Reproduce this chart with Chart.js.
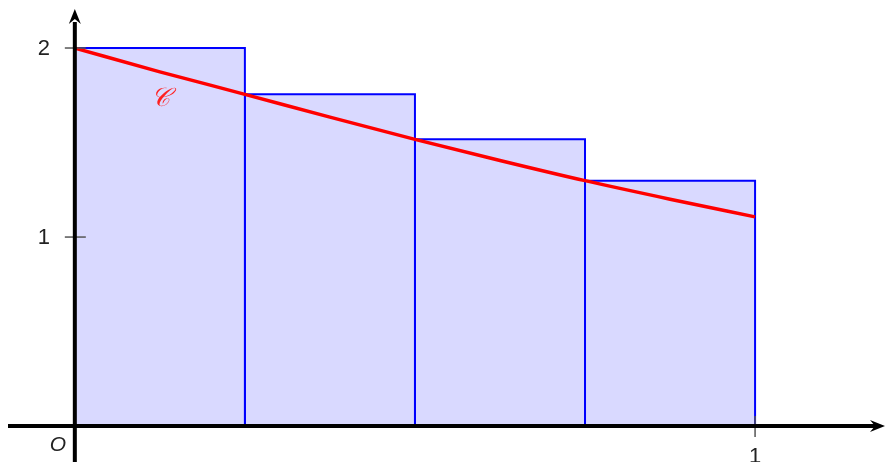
<!DOCTYPE html>
<html>
<head>
<meta charset="utf-8">
<script src="https://cdn.jsdelivr.net/npm/chart.js@4/dist/chart.umd.min.js"></script>
<style>
  html, body { margin: 0; padding: 0; background: #fff; }
  #wrap { width: 885px; height: 462px; }
</style>
</head>
<body>
<div id="wrap"><canvas id="c" width="885" height="462"></canvas></div>
<script>
// Left-endpoint rectangles under the curve C on [0, 1]
const rectEdges = [0, 0.25, 0.5, 0.75, 1];
const rectHeights = [2, 1.755, 1.517, 1.298];

// Curve C sampled along [0, 1]
const curveX = [0, 0.125, 0.25, 0.375, 0.5, 0.625, 0.75, 0.875, 1];
const curveY = [2, 1.874, 1.755, 1.634, 1.517, 1.405, 1.298, 1.200, 1.107];

// Axis tick labels
const xTicks = [1];
const yTicks = [1, 2];

const rectDatasets = rectHeights.map((h, i) => ({
  type: 'line',
  data: [
    { x: rectEdges[i], y: 0 },
    { x: rectEdges[i], y: h },
    { x: rectEdges[i + 1], y: h },
    { x: rectEdges[i + 1], y: 0 }
  ],
  borderColor: '#0000ff',
  borderWidth: 2,
  backgroundColor: '#d9d9ff',
  fill: 'origin',
  pointRadius: 0,
  tension: 0,
  order: 2
}));

const curveDataset = {
  type: 'line',
  data: curveX.map((x, i) => ({ x, y: curveY[i] })),
  borderColor: '#ff0000',
  borderWidth: 3.4,
  fill: false,
  pointRadius: 0,
  cubicInterpolationMode: 'monotone',
  order: 1
};

// Draws the arrowed axes, ticks and labels on top of the plot
const axesPlugin = {
  id: 'axes',
  afterDatasetsDraw(chart) {
    const ctx = chart.ctx;
    const xs = chart.scales.x, ys = chart.scales.y;
    const x0 = xs.getPixelForValue(0), y0 = ys.getPixelForValue(0);
    const W = chart.width, H = chart.height;
    ctx.save();

    // ticks
    ctx.strokeStyle = '#555';
    ctx.lineWidth = 1.5;
    yTicks.forEach(v => {
      const py = ys.getPixelForValue(v);
      ctx.beginPath();
      ctx.moveTo(x0 - 10, py);
      ctx.lineTo(x0 + 11, py);
      ctx.stroke();
    });
    xTicks.forEach(v => {
      const px = xs.getPixelForValue(v);
      ctx.beginPath();
      ctx.moveTo(px, y0 - 10);
      ctx.lineTo(px, y0 + 11);
      ctx.stroke();
    });

    // axes
    ctx.strokeStyle = '#000';
    ctx.fillStyle = '#000';
    ctx.lineWidth = 4;
    ctx.lineCap = 'butt';
    ctx.beginPath();
    ctx.moveTo(8, y0);
    ctx.lineTo(W - 10, y0);
    ctx.moveTo(x0, H);
    ctx.lineTo(x0, 22);
    ctx.stroke();

    // arrow heads
    const arrow = (tx, ty, dx, dy) => {
      const nx = -dy, ny = dx;
      ctx.beginPath();
      ctx.moveTo(tx, ty);
      ctx.lineTo(tx - dx * 15 + nx * 6, ty - dy * 15 + ny * 6);
      ctx.lineTo(tx - dx * 10, ty - dy * 10);
      ctx.lineTo(tx - dx * 15 - nx * 6, ty - dy * 15 - ny * 6);
      ctx.closePath();
      ctx.fill();
    };
    arrow(W, y0, 1, 0);
    arrow(x0, 9, 0, -1);

    // labels
    ctx.fillStyle = '#222';
    ctx.font = '22px "Liberation Sans", sans-serif';
    ctx.textAlign = 'center';
    ctx.textBaseline = 'middle';
    yTicks.forEach(v => {
      ctx.fillText(String(v), x0 - 31, ys.getPixelForValue(v) + 1);
    });
    xTicks.forEach(v => {
      ctx.fillText(String(v), xs.getPixelForValue(v), y0 + 31);
    });
    ctx.font = 'italic 21px "Liberation Sans", sans-serif';
    ctx.fillText('O', x0 - 17, y0 + 19);

    // curve name
    ctx.fillStyle = '#ff2020';
    ctx.font = 'italic 26px "DejaVu Serif", serif';
    ctx.fillText('𝒞', xs.getPixelForValue(0.126), ys.getPixelForValue(1.73));
    ctx.restore();
  }
};

new Chart(document.getElementById('c'), {
  type: 'line',
  data: { datasets: [...rectDatasets, curveDataset] },
  options: {
    responsive: false,
    animation: false,
    layout: { padding: 0 },
    plugins: { legend: { display: false }, tooltip: { enabled: false } },
    scales: {
      x: { type: 'linear', min: -0.110, max: 1.191, display: false },
      y: { type: 'linear', min: -0.190, max: 2.254, display: false }
    }
  },
  plugins: [axesPlugin]
});
</script>
</body>
</html>
